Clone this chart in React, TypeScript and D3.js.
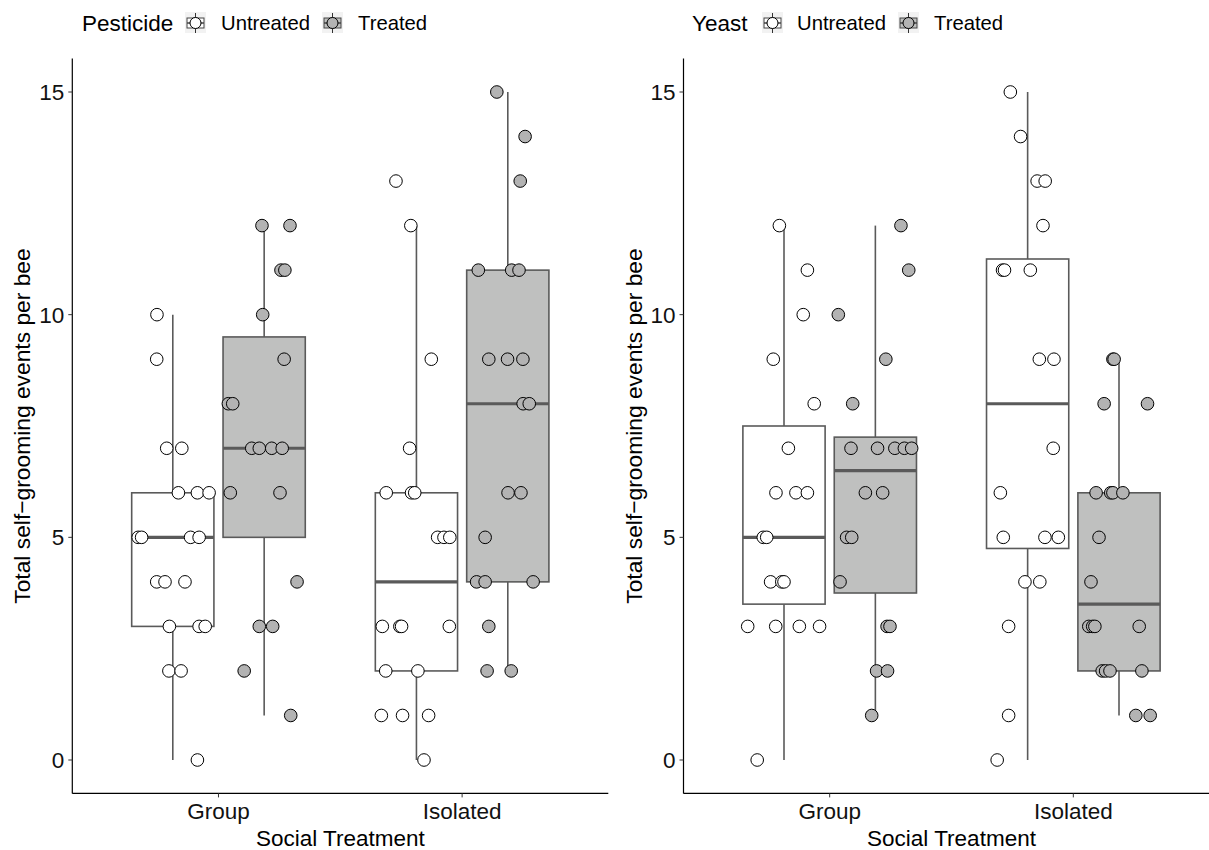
import React from "react";
import * as d3 from "d3";

// categories and fill levels
const categories = ["Group", "Isolated"];
const levels = ["Untreated", "Treated"];
const yTicks = [0, 5, 10, 15];

// each point: [value, jitter (in category units)]
const pestGroupUntreated = [
  [10, -0.065], [9, -0.066], [7, -0.025], [7, 0.037], [6, 0.023], [6, 0.101], [6, 0.149],
  [5, -0.142], [5, -0.128], [5, 0.073], [5, 0.108], [4, -0.066], [4, -0.032], [4, 0.05],
  [3, -0.014], [3, 0.108], [3, 0.133], [2, -0.016], [2, 0.034], [0, 0.101],
];
const pestGroupTreated = [
  [12, -0.009], [12, 0.106], [11, 0.069], [11, 0.085], [10, -0.006], [9, 0.082],
  [8, -0.147], [8, -0.129], [7, -0.051], [7, -0.02], [7, 0.031], [7, 0.074],
  [6, -0.139], [6, 0.065], [4, 0.135], [3, -0.02], [3, 0.035], [2, -0.082], [1, 0.109],
];
const pestIsolatedUntreated = [
  [13, -0.084], [12, -0.023], [9, 0.061], [7, -0.028], [6, -0.124], [6, -0.02], [6, -0.007],
  [5, 0.087], [5, 0.113], [5, 0.137], [3, -0.14], [3, -0.068], [3, -0.061], [3, 0.135],
  [2, -0.126], [2, 0.006], [1, -0.144], [1, -0.057], [1, 0.05], [0, 0.031],
];
const pestIsolatedTreated = [
  [15, -0.045], [14, 0.071], [13, 0.051], [11, -0.121], [11, 0.016], [11, 0.046],
  [9, -0.078], [9, -0.001], [9, 0.062], [8, 0.063], [8, 0.088], [6, 0.001], [6, 0.054],
  [5, -0.093], [4, -0.128], [4, -0.093], [4, 0.104], [3, -0.078], [2, -0.085], [2, 0.014],
];

const yeastGroupUntreated = [
  [12, -0.019], [11, 0.096], [10, 0.079], [9, -0.044], [8, 0.124], [7, 0.018],
  [6, -0.033], [6, 0.049], [6, 0.096], [5, -0.085], [5, -0.071], [4, -0.055], [4, -0.009],
  [4, 0], [3, -0.149], [3, -0.034], [3, 0.063], [3, 0.146], [0, -0.11],
];
const yeastGroupTreated = [
  [12, 0.105], [11, 0.137], [10, -0.152], [9, 0.043], [8, -0.093], [7, -0.1], [7, 0.009],
  [7, 0.08], [7, 0.119], [7, 0.149], [6, -0.041], [6, 0.03], [5, -0.118], [5, -0.097],
  [4, -0.145], [3, 0.048], [3, 0.06], [2, 0.005], [2, 0.05], [1, -0.015],
];
const yeastIsolatedUntreated = [
  [15, -0.071], [14, -0.029], [13, 0.039], [13, 0.072], [12, 0.063], [11, -0.103],
  [11, -0.095], [11, 0.011], [9, 0.048], [9, 0.108], [7, 0.105], [6, -0.112],
  [5, -0.1], [5, 0.071], [5, 0.126], [4, -0.011], [4, 0.05], [3, -0.078], [1, -0.078], [0, -0.125],
];
const yeastIsolatedTreated = [
  [9, -0.025], [9, -0.02], [8, -0.061], [8, 0.117], [6, -0.094], [6, -0.034], [6, -0.025],
  [6, 0.016], [5, -0.082], [4, -0.115], [3, -0.124], [3, -0.108], [3, -0.099], [3, 0.083],
  [2, -0.069], [2, -0.055], [2, -0.037], [2, 0.094], [1, 0.069], [1, 0.128],
];

const panels = [
  {
    title: "Pesticide",
    x0: 72.3,
    groups: [
      [pestGroupUntreated, pestGroupTreated],
      [pestIsolatedUntreated, pestIsolatedTreated],
    ],
    legendX: [82, 185, 221, 322, 358],
  },
  {
    title: "Yeast",
    x0: 683.5,
    groups: [
      [yeastGroupUntreated, yeastGroupTreated],
      [yeastIsolatedUntreated, yeastIsolatedTreated],
    ],
    legendX: [692, 762, 797, 898, 934],
  },
];

const font = "'Liberation Sans', Arial, Helvetica, sans-serif";
const fills = ["#ffffff", "#bfc0bf"];
const pointFills = ["#ffffff", "#b3b3b3"];
const boxStroke = "#5a5a5a";
const panelW = 536;
const top = 58.6;
const bottom = 793.4;
const dodge = 0.1875;
const boxW = 0.3375;

const y = d3.scaleLinear().domain([-0.75, 15.75]).range([bottom, top]);

function stats(pts: number[][]) {
  const v = pts.map((p) => p[0]).sort(d3.ascending);
  const q1 = d3.quantile(v, 0.25)!;
  const med = d3.quantile(v, 0.5)!;
  const q3 = d3.quantile(v, 0.75)!;
  const iqr = q3 - q1;
  const lo = d3.min(v.filter((d) => d >= q1 - 1.5 * iqr))!;
  const hi = d3.max(v.filter((d) => d <= q3 + 1.5 * iqr))!;
  return { q1, med, q3, lo, hi };
}

function LegendKey({ x, level }: { x: number; level: number }) {
  const cx = x + 10.5;
  const cy = 23;
  return (
    <g>
      <rect x={x} y={cy - 11} width={21} height={21} fill="#f2f2f2" />
      <line x1={cx} x2={cx} y1={cy - 10} y2={cy + 10} stroke="#333" strokeWidth={1} />
      <rect x={x + 2} y={cy - 5} width={17} height={10} fill={fills[level]} stroke="#444" strokeWidth={1} />
      <line x1={x + 2} x2={x + 19} y1={cy} y2={cy} stroke="#444" strokeWidth={1.5} />
      <circle cx={cx} cy={cy} r={5.5} fill={pointFills[level]} stroke="#000" strokeWidth={1} />
    </g>
  );
}

function Panel({ p }: { p: (typeof panels)[number] }) {
  const x = d3.scaleLinear().domain([0.4, 2.6]).range([p.x0, p.x0 + panelW]);
  const pxPerUnit = x(1) - x(0);
  return (
    <g>
      {/* legend */}
      <text x={p.legendX[0]} y={31} fontSize={22.5} fontFamily={font} fill="#000">
        {p.title}
      </text>
      <LegendKey x={p.legendX[1]} level={0} />
      <text x={p.legendX[2]} y={30} fontSize={20.3} fontFamily={font} fill="#000">
        {levels[0]}
      </text>
      <LegendKey x={p.legendX[3]} level={1} />
      <text x={p.legendX[4]} y={30} fontSize={20.3} fontFamily={font} fill="#000">
        {levels[1]}
      </text>

      {/* boxes */}
      {p.groups.map((grp, ci) =>
        grp.map((pts, li) => {
          const s = stats(pts);
          const cx = x(ci + 1 + (li === 0 ? -dodge : dodge));
          const hw = (boxW / 2) * pxPerUnit;
          return (
            <g key={`b${ci}${li}`}>
              <line x1={cx} x2={cx} y1={y(s.hi)} y2={y(s.q3)} stroke={boxStroke} strokeWidth={1.6} />
              <line x1={cx} x2={cx} y1={y(s.q1)} y2={y(s.lo)} stroke={boxStroke} strokeWidth={1.6} />
              <rect
                x={cx - hw}
                y={y(s.q3)}
                width={hw * 2}
                height={y(s.q1) - y(s.q3)}
                fill={fills[li]}
                stroke={boxStroke}
                strokeWidth={1.6}
              />
              <line x1={cx - hw} x2={cx + hw} y1={y(s.med)} y2={y(s.med)} stroke={boxStroke} strokeWidth={3.2} />
            </g>
          );
        })
      )}

      {/* jittered points */}
      {p.groups.map((grp, ci) =>
        grp.map((pts, li) =>
          pts.map((d, k) => (
            <circle
              key={`p${ci}${li}${k}`}
              cx={x(ci + 1 + (li === 0 ? -dodge : dodge) + d[1])}
              cy={y(d[0])}
              r={6.3}
              fill={pointFills[li]}
              stroke="#000"
              strokeWidth={1}
            />
          ))
        )
      )}

      {/* axes */}
      <line x1={p.x0} x2={p.x0} y1={top} y2={bottom} stroke="#000" strokeWidth={1.2} />
      <line x1={p.x0} x2={p.x0 + panelW} y1={bottom} y2={bottom} stroke="#000" strokeWidth={1.2} />
      {yTicks.map((t) => (
        <g key={`yt${t}`}>
          <line x1={p.x0 - 4} x2={p.x0} y1={y(t)} y2={y(t)} stroke="#333" strokeWidth={1} />
          <text
            x={p.x0 - 8}
            y={y(t)}
            dy="0.36em"
            textAnchor="end"
            fontSize={22.5}
            fontFamily={font}
            fill="#111"
          >
            {t}
          </text>
        </g>
      ))}
      {categories.map((c, i) => (
        <g key={c}>
          <line x1={x(i + 1)} x2={x(i + 1)} y1={bottom} y2={bottom + 4} stroke="#333" strokeWidth={1} />
          <text x={x(i + 1)} y={bottom + 26} textAnchor="middle" fontSize={22.5} fontFamily={font} fill="#111">
            {c}
          </text>
        </g>
      ))}
      <text
        x={x(1.5)}
        y={bottom + 53}
        textAnchor="middle"
        fontSize={22.5}
        fontFamily={font}
        fill="#000"
      >
        Social Treatment
      </text>
      <text
        transform={`translate(${p.x0 - 42},${(top + bottom) / 2}) rotate(-90)`}
        textAnchor="middle"
        fontSize={22.8}
        fontFamily={font}
        fill="#000"
      >
        Total self−grooming events per bee
      </text>
    </g>
  );
}

export default function App() {
  return (
    <svg
      width={1209}
      height={850}
      style={{ position: "absolute", left: 0, top: 0, background: "#fff" }}
    >
      <rect width={1209} height={850} fill="#fff" />
      {panels.map((p) => (
        <Panel key={p.title} p={p} />
      ))}
    </svg>
  );
}
